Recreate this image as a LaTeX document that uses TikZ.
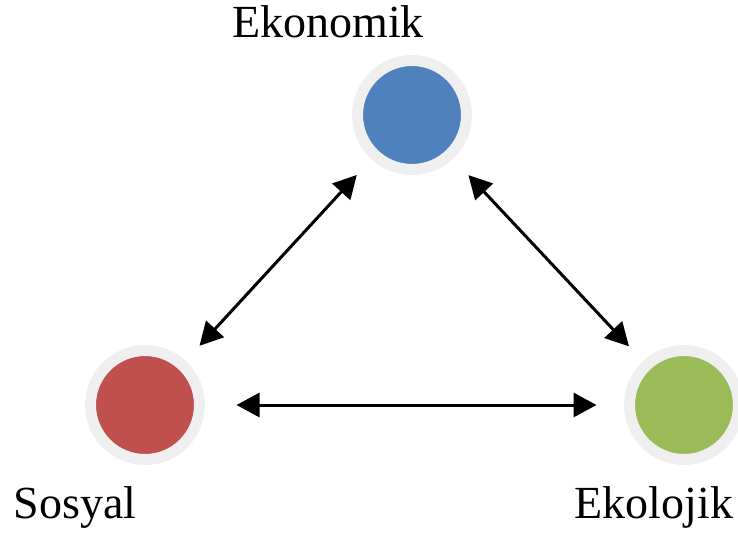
\documentclass[tikz,border=0pt]{standalone}
\usepackage{fontspec}
\setmainfont{Liberation Serif}
\usetikzlibrary{arrows.meta}
\definecolor{ekoblue}{HTML}{4F81BD}
\definecolor{sosred}{HTML}{C0504D}
\definecolor{ekogreen}{HTML}{9BBB59}
\definecolor{ringgray}{HTML}{EFEFEF}
\tikzset{
	pillar/.style={circle,draw=ringgray,line width=11pt,minimum size=109pt,inner sep=0pt,outer sep=0pt},
	lbl/.style={anchor=base,inner sep=0pt,font=\fontsize{46}{54}\selectfont},
	link/.style={{Triangle[length=23pt,width=24pt]}-{Triangle[length=23pt,width=24pt]},line width=3pt},
}
\begin{document}
\begin{tikzpicture}[x=1pt,y=-1pt]
	\useasboundingbox (0,0) rectangle (738,533);
	\node[pillar,fill=ekoblue] at (412,115) (E) {};
	\node[pillar,fill=sosred] at (145,405) (S) {};
	\node[pillar,fill=ekogreen] at (684,405) (K) {};
	\node[lbl] at (328,37) (lE) {Ekonomik};
	\node[lbl] at (75,518) (lS) {Sosyal};
	\node[lbl] at (654,518) (lK) {Ekolojik};
	\draw[link,shorten <=27pt,shorten >=26pt] (E) -- (S);
	\draw[link,shorten <=28pt,shorten >=26pt] (E) -- (K);
	\draw[link,shorten <=37pt,shorten >=33pt] (S) -- (K);
\end{tikzpicture}
\end{document}
